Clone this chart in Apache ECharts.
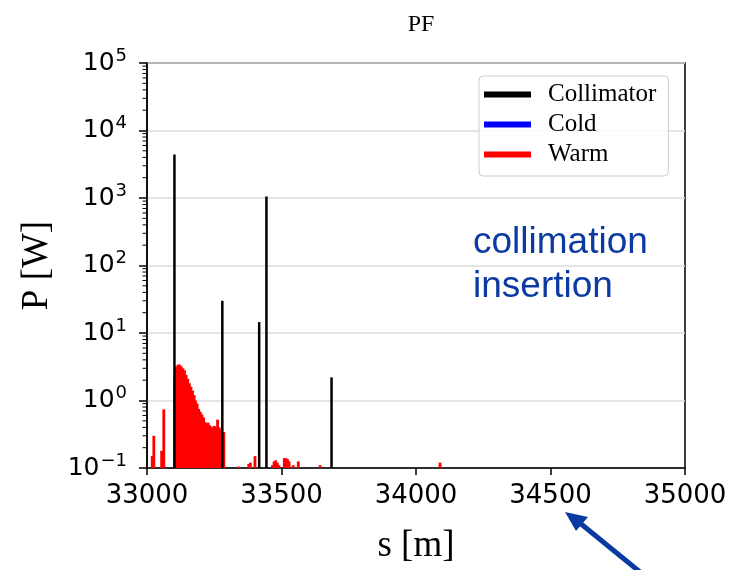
<!DOCTYPE html>
<html>
<head>
<meta charset="utf-8">
<script src="https://cdn.jsdelivr.net/npm/echarts@6/dist/echarts.min.js"></script>
<style>html,body{margin:0;padding:0;background:#fff}#main{width:730px;height:570px}</style>
</head>
<body>
<div id="main"></div>
<script>
// axis ticks
var xTicks = [33000, 33500, 34000, 34500, 35000];
var yMin = 0.1, yMax = 100000;
var yMinor = [];
for (var d = -1; d < 5; d++) {
  for (var k = 2; k < 10; k++) yMinor.push(k * Math.pow(10, d));
}

// collimator losses (spikes)
var collS = [33102, 33280, 33417, 33444, 33686];
var collP = [4400, 30, 14.5, 1050, 2.2];

// cold losses (none in this window)
var coldS = [];
var coldP = [];

// warm losses, ~6 m bins
var warmS = [33019, 33025, 33054, 33062,
  33103, 33109, 33115, 33121, 33127, 33133, 33139, 33145, 33151, 33157, 33163,
  33169, 33175, 33180, 33186, 33192, 33198, 33204, 33210, 33215, 33221, 33227,
  33233, 33239, 33245, 33250, 33256, 33262, 33268, 33274, 33280, 33285,
  33339, 33378, 33384, 33401, 33466, 33472, 33478, 33484, 33490,
  33510, 33516, 33522, 33528, 33543, 33562, 33643, 34089];
var warmP = [0.15, 0.30, 0.18, 0.74,
  2.2, 3.2, 3.4, 3.4, 3.2, 3.0, 2.8, 2.4, 2.1, 1.8, 1.6,
  1.4, 1.2, 1.0, 0.9, 0.75, 0.68, 0.62, 0.56, 0.48, 0.46, 0.47,
  0.43, 0.41, 0.38, 0.42, 0.40, 0.52, 0.40, 0.37, 0.34, 0.34,
  0.105, 0.115, 0.12, 0.15, 0.11, 0.125, 0.13, 0.12, 0.11,
  0.14, 0.14, 0.135, 0.125, 0.11, 0.125, 0.11, 0.12];

function pairs(a, b) {
  var out = [];
  for (var i = 0; i < a.length; i++) out.push([a[i], b[i]]);
  return out;
}

var binW = 6;
function warmItem(params, api) {
  var a = api.coord([api.value(0) - binW / 2, api.value(1)]);
  var b = api.coord([api.value(0) + binW / 2, yMin]);
  return {type: 'rect', shape: {x: a[0] - 0.5, y: a[1], width: b[0] - a[0] + 1.2, height: b[1] - a[1]},
    style: {fill: '#ff0000'}};
}
function spikeItem(color) {
  return function (params, api) {
    var a = api.coord([api.value(0), api.value(1)]);
    var b = api.coord([api.value(0), yMin]);
    return {type: 'line', shape: {x1: a[0], y1: a[1], x2: b[0], y2: b[1]},
      style: {stroke: color, lineWidth: 2.5}};
  };
}
function minorItem(params, api) {
  var p = api.coord([xTicks[0], api.value(0)]);
  return {type: 'line', shape: {x1: p[0] - 4.5, y1: p[1], x2: p[0], y2: p[1]},
    style: {stroke: '#000', lineWidth: 1}};
}

var dom = document.getElementById('main');
var myChart = echarts.init(dom);
var option = {
  animation: false,
  title: {
    text: 'PF', left: 416, top: 8, textAlign: 'center',
    textStyle: {fontFamily: 'Liberation Serif', fontSize: 24, fontWeight: 'normal', color: '#000'}
  },
  grid: {left: 147, right: 45, top: 63, bottom: 101, show: true, borderColor: '#000', borderWidth: 1.5},
  legend: {
    data: ['Collimator', 'Cold', 'Warm'],
    orient: 'vertical', left: 479, top: 76,
    icon: 'rect', itemWidth: 47, itemHeight: 6, itemGap: 5,
    padding: [6, 12, 9, 5],
    backgroundColor: 'rgba(255,255,255,0.85)', borderColor: '#cccccc', borderWidth: 1, borderRadius: 4,
    textStyle: {fontFamily: 'Liberation Serif', fontSize: 25, color: '#000', padding: [0, 0, 0, 12]}
  },
  xAxis: {
    type: 'value', min: 33000, max: 35000, interval: 500,
    name: 's [m]', nameLocation: 'middle', nameGap: 60,
    nameTextStyle: {fontFamily: 'Liberation Serif', fontSize: 37, color: '#000'},
    axisLine: {lineStyle: {color: '#000', width: 1.5}},
    axisTick: {inside: false, length: 7, lineStyle: {color: '#000', width: 1.5}},
    axisLabel: {fontFamily: 'DejaVu Sans', fontSize: 26, color: '#000', margin: 15,
      formatter: function (v) { return String(v); }},
    splitLine: {show: false}
  },
  yAxis: {
    type: 'log', logBase: 10, min: yMin, max: yMax,
    name: 'P [W]', nameLocation: 'middle', nameGap: 91,
    nameTextStyle: {fontFamily: 'Liberation Serif', fontSize: 37, color: '#000'},
    axisLine: {lineStyle: {color: '#000', width: 1.5}},
    axisTick: {inside: false, length: 8, lineStyle: {color: '#000', width: 1.5}},
    axisLabel: {
      margin: 20,
      formatter: function (v) {
        var e = Math.round(Math.log10(v));
        return '{b|10}{e|' + (e < 0 ? '\u2212' + (-e) : e) + '}';
      },
      rich: {
        b: {fontFamily: 'DejaVu Sans', fontSize: 25, color: '#000'},
        e: {fontFamily: 'DejaVu Sans', fontSize: 18, color: '#000', padding: [0, 0, 14, 1]}
      }
    },
    splitLine: {show: true, lineStyle: {color: '#dcdcdc', width: 1.5}}
  },
  series: [
    {name: 'Warm', type: 'custom', renderItem: warmItem, data: pairs(warmS, warmP),
      itemStyle: {color: '#ff0000'}, z: 2},
    {name: 'Cold', type: 'custom', renderItem: spikeItem('#0000ff'), data: pairs(coldS, coldP),
      itemStyle: {color: '#0000ff'}, z: 3},
    {name: 'Collimator', type: 'custom', renderItem: spikeItem('#000000'), data: pairs(collS, collP),
      itemStyle: {color: '#000000'}, z: 4},
    {name: 'minor', type: 'custom', renderItem: minorItem, data: yMinor.map(function (v) { return [v]; }),
      encode: {y: 0}, silent: true, z: 5}
  ],
  graphic: [
    {type: 'text', left: 473, top: 221, style: {text: 'collimation\ninsertion', font: '37px "Liberation Sans"', fill: '#0b3aa0', lineHeight: 44}},
    {type: 'line', shape: {x1: 640, y1: 572, x2: 575, y2: 519}, style: {stroke: '#0b3aa0', lineWidth: 5}},
    {type: 'polygon', shape: {points: [[565, 512], [588, 517], [576, 531]]}, style: {fill: '#0b3aa0'}}
  ]
};
if (option && typeof option === 'object') {
  myChart.setOption(option, true);
}
</script>
</body>
</html>
